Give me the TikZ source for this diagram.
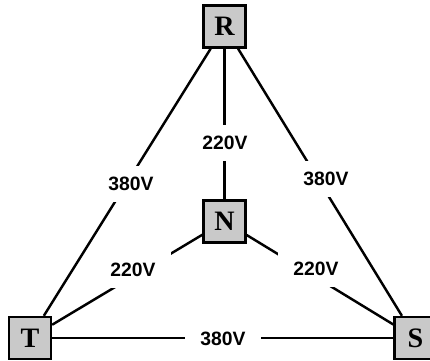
\documentclass[tikz,border=0pt]{standalone}
\usepackage{fontspec}
\setmainfont{Liberation Serif}
\setsansfont{Liberation Sans}
\usetikzlibrary{positioning}

\begin{document}
\begin{tikzpicture}[
    phase/.style={draw, line width=2pt, fill=black!21, minimum size=1.26cm, inner sep=0pt,
      font=\bfseries\fontsize{24}{24}\selectfont},
    volt/.style={fill=white, inner xsep=0.45cm, inner ysep=0.34cm,
      font=\sffamily\bfseries\fontsize{16.5}{16.5}\selectfont},
    wire/.style={line width=2.1pt}
  ]
    \useasboundingbox (0,0) rectangle (12.9,10.83);
    \node[phase] (R) at (6.735,10.035) {R};
    \node[phase] (N) at (6.735,4.185)  {N};
    \node[phase] (T) at (0.9,0.69)     {T};
    \node[phase] (S) at (12.465,0.69)  {S};

    \draw[wire] (R) -- (N);
    \draw[wire] (R) -- (T);
    \draw[wire] (R) -- (S);
    \draw[wire] (N) -- (T);
    \draw[wire] (N) -- (S);
    \draw[wire] (T) -- (S);

    \node[volt] (vRN) at (6.75,6.54) {220V};
    \node[volt] (vRT) at (3.93,5.31) {380V};
    \node[volt] (vRS) at (9.78,5.46) {380V};
    \node[volt] (vNT) at (3.99,2.73) {220V};
    \node[volt] (vNS) at (9.48,2.76) {220V};
    \node[volt] (vTS) at (6.69,0.66) {380V};
  \end{tikzpicture}
\end{document}
